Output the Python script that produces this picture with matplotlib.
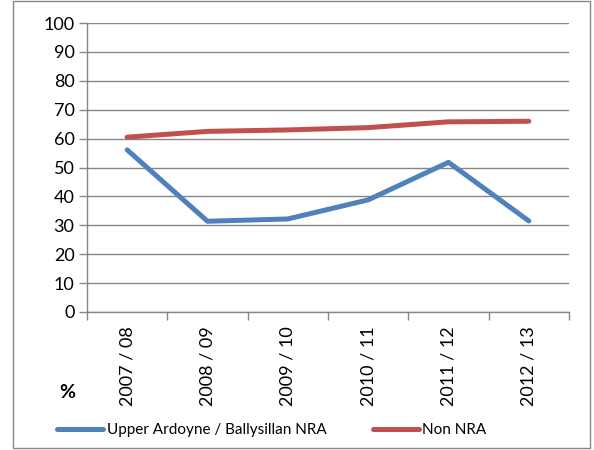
import matplotlib.pyplot as plt
from matplotlib.patches import Rectangle

years = ["2007 / 08", "2008 / 09", "2009 / 10", "2010 / 11", "2011 / 12", "2012 / 13"]
ardoyne = [56.1, 31.4, 32.2, 38.8, 51.8, 31.5]
non_nra = [60.5, 62.5, 63.0, 63.8, 65.8, 66.0]

blue = "#4F81BD"
red = "#C0504D"
grey = "#868686"

plt.rcParams["font.family"] = ["Lato", "DejaVu Sans"]

fig = plt.figure(figsize=(5.94, 4.5), dpi=100)
ax = fig.add_axes([87 / 594, 1 - 312 / 450, (569 - 87) / 594, (312 - 23) / 450])

x = [i + 0.5 for i in range(len(years))]
ax.plot(x, ardoyne, color=blue, lw=3.6, solid_capstyle="round", solid_joinstyle="round",
        label="Upper Ardoyne / Ballysillan NRA")
ax.plot(x, non_nra, color=red, lw=3.6, solid_capstyle="round", solid_joinstyle="round",
        label="Non NRA")

ax.set_xlim(0, len(years))
ax.set_ylim(0, 100)
ax.set_yticks(range(0, 101, 10))
ax.set_xticks(range(len(years) + 1))
ax.set_xticklabels([])
ax.set_xticks(x, minor=True)
ax.set_xticklabels(years, minor=True, rotation=90, fontsize=13)
ax.tick_params(axis="x", which="minor", length=0, pad=10)
ax.tick_params(axis="x", which="major", length=6, color=grey, width=1)
ax.tick_params(axis="y", length=6, color=grey, width=1, labelsize=13, pad=3)

ax.grid(axis="y", color=grey, lw=1)
ax.set_axisbelow(True)
for s in ["top", "right"]:
    ax.spines[s].set_visible(False)
for s in ["left", "bottom"]:
    ax.spines[s].set_color(grey)
    ax.spines[s].set_linewidth(1)

fig.text(67 / 594, 1 - 392 / 450, "%", fontsize=14, fontweight="bold", ha="center", va="center")

fig.legend(loc="center", bbox_to_anchor=(272 / 594, 1 - 430 / 450), ncol=2, frameon=False,
           fontsize=11, handlelength=3.0, handletextpad=0.25, columnspacing=3.0)

fig.patches.append(Rectangle((13 / 594, 2 / 450), (590 - 13) / 594, (449 - 2) / 450,
                             transform=fig.transFigure, fill=False, edgecolor=grey, lw=1))

fig.savefig("out.png", dpi=100)
